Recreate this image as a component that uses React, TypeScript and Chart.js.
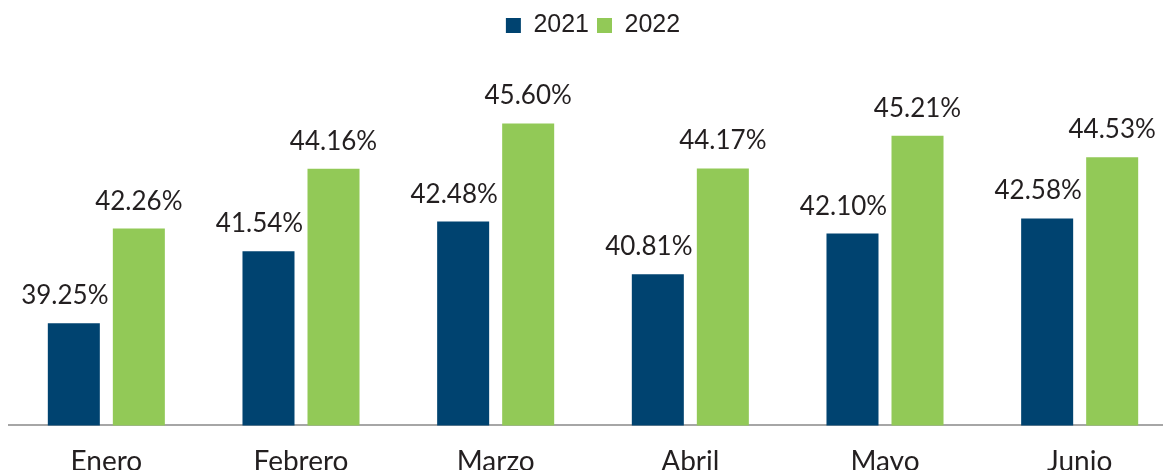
import React, { useEffect, useRef } from "react";
import { Chart, registerables } from "chart.js";

Chart.register(...registerables);

const categories = ["Enero", "Febrero", "Marzo", "Abril", "Mayo", "Junio"];
const series2021 = [39.25, 41.54, 42.48, 40.81, 42.1, 42.58];
const series2022 = [42.26, 44.16, 45.6, 44.17, 45.21, 44.53];
const seriesNames = ["2021", "2022"];
const colors = ["#004370", "#92c957"];
const labelOffsets = [-9, 0];

const valueLabels = {
  id: "valueLabels",
  afterDatasetsDraw(chart: any) {
    const ctx = chart.ctx;
    ctx.save();
    ctx.font = "26px Lato";
    ctx.fillStyle = "#231f20";
    ctx.textAlign = "center";
    ctx.textBaseline = "alphabetic";
    chart.data.datasets.forEach((ds: any, i: number) => {
      const meta = chart.getDatasetMeta(i);
      meta.data.forEach((bar: any, j: number) => {
        const v = ds.data[j] as number;
        ctx.fillText(v.toFixed(2) + "%", bar.x + labelOffsets[i], bar.y - 19);
      });
    });
    ctx.restore();
  },
};

export default function App() {
  const ref = useRef<HTMLCanvasElement>(null);
  useEffect(() => {
    document.body.style.margin = "0";
    const chart = new Chart(ref.current!, {
      type: "bar",
      data: {
        labels: categories,
        datasets: [
          { label: seriesNames[0], data: series2021, backgroundColor: colors[0] },
          { label: seriesNames[1], data: series2022, backgroundColor: colors[1] },
        ],
      },
      options: {
        animation: false,
        responsive: false,
        layout: { padding: { left: 9, right: 0, top: 5, bottom: 0 } },
        datasets: { bar: { categoryPercentage: 0.668, barPercentage: 0.8 } },
        plugins: {
          legend: {
            position: "top",
            labels: {
              boxWidth: 15,
              boxHeight: 15,
              padding: 8,
              color: "#231f20",
              font: { family: "'Liberation Sans', Arial", size: 25 },
            },
          },
          tooltip: { enabled: false },
        },
        scales: {
          x: {
            grid: { display: false },
            border: { color: "#a6a6a6", width: 2 },
            ticks: {
              color: "#231f20",
              font: { family: "Lato", size: 28 },
              padding: 12,
            },
          },
          y: { display: false, min: 36, max: 48 },
        },
      },
      plugins: [valueLabels],
    });
    return () => chart.destroy();
  }, []);
  return (
    <div style={{ position: "fixed", left: 0, top: 0, width: 1163, height: 470, overflow: "hidden", background: "#fff" }}>
      <canvas ref={ref} width={1177} height={491} />
    </div>
  );
}
